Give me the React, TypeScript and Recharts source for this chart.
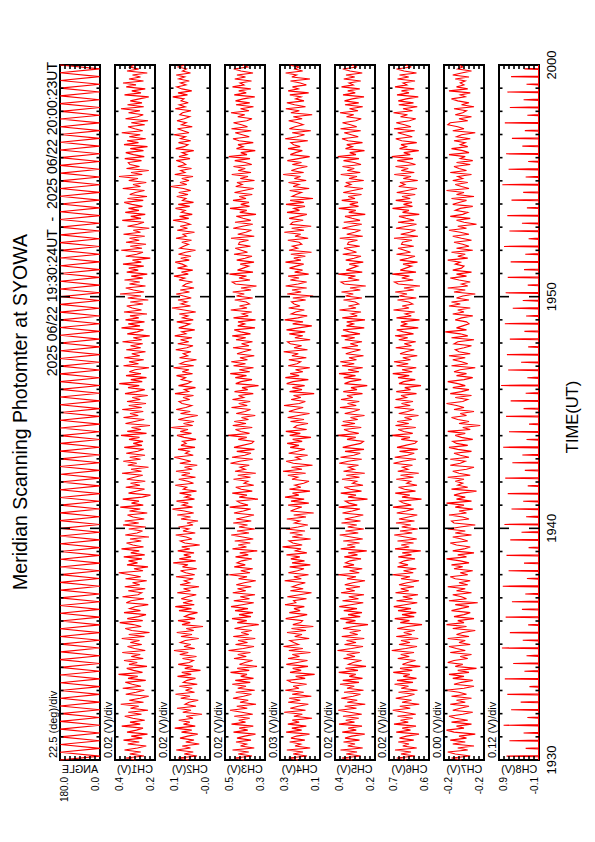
import { LineChart, Line, XAxis, YAxis, ReferenceArea } from "recharts";

// 19:30 - 20:00 UT, seconds from 19:30:00
const timeTicks = [0, 600, 1200, 1800];
const timeLabels = ["1930", "1940", "1950", "2000"];

const panelNames = ["ANGLE", "CH1(V)", "CH2(V)", "CH3(V)", "CH4(V)", "CH5(V)", "CH6(V)", "CH7(V)", "CH8(V)"];
const scaleLabels = [
  "22.5 (deg)/div", "0.02 (V)/div", "0.02 (V)/div", "0.02 (V)/div", "0.03 (V)/div",
  "0.02 (V)/div", "0.02 (V)/div", "0.00 (V)/div", "0.12 (V)/div",
];
const topLabels = ["180.0", "0.4", "0.1", "0.5", "0.3", "0.4", "0.7", "-0.2", "0.9"];
const bottomLabels = ["0.0", "0.2", "-0.0", "0.3", "0.1", "0.2", "0.6", "-0.2", "-0.1"];
// ANGLE in deg, channels in mV
const domains: [number, number][] = [
  [0, 180], [240, 400], [-40, 120], [340, 500], [80, 320], [240, 400], [550, 710], [-222, -190], [-60, 900],
];

const angle = [
  179, 1, 180, 0, 178, 2, 180, 1, 179, 0, 180, 2, 177, 0, 180, 1, 179, 3, 180, 0,
  178, 1, 180, 0, 179, 2, 180, 0, 176, 1, 180, 0, 179, 2, 180, 1, 178, 0, 180, 2,
  179, 0, 180, 1, 177, 0, 180, 3, 179, 1, 180, 0, 178, 2, 180, 0, 179, 1, 180, 0,
  177, 2, 180, 1, 179, 0, 180, 2, 178, 0, 180, 1, 179, 0, 176, 2, 180, 1, 179, 0,
  180, 0, 178, 2, 180, 1, 179, 0, 180, 3, 177, 1, 180, 0, 179, 2, 180, 0, 178, 1,
  180, 0, 179, 2, 180, 1, 177, 0, 180, 2, 179, 0, 180, 1, 178, 0, 180, 2, 179, 1,
  176, 0, 180, 1, 179, 2, 180, 0, 178, 1, 180, 0, 179, 3, 180, 1, 177, 0, 180, 2,
  179, 0, 180, 1, 178, 2, 180, 0, 179, 1, 180, 0, 177, 2, 180, 1, 179, 0, 180, 2,
  178, 1, 180, 0, 179, 2, 180, 1, 176, 0, 180, 2, 179, 1, 180, 0, 178, 2, 180, 1,
  179,
];

const ch1 = [
  318, 356, 284, 341, 297, 362, 310, 275, 349, 303, 366, 291, 335, 270, 352, 314, 288, 373, 299, 340,
  281, 329, 361, 294, 347, 268, 338, 305, 377, 286, 343, 300, 265, 357, 316, 283, 369, 296, 331, 359,
  277, 348, 309, 386, 290, 326, 353, 272, 344, 311, 364, 287, 335, 299, 371, 279, 322, 350, 293, 339,
  302, 373, 282, 345, 262, 333, 359, 295, 327, 381, 289, 351, 306, 276, 364, 298, 342, 320, 267, 355,
  336, 284, 370, 308, 293, 347, 279, 361, 301, 330, 273, 358, 297, 339, 385, 288, 324, 268, 352, 310,
  346, 292, 365, 281, 337, 303, 374, 286, 329, 354, 295, 340, 264, 359, 312, 290, 345, 277, 368, 305,
  361, 283, 328, 350, 271, 342, 299, 379, 287, 334, 304, 369, 291, 258, 346, 316, 282, 357, 300, 338,
  279, 353, 323, 289, 372, 294, 336, 266, 349, 313, 367, 298, 341, 280, 355, 309, 285, 363, 292, 327,
  288, 344, 302, 376, 274, 351, 296, 334, 260, 358, 321, 283, 366, 307, 340, 287, 371, 293, 345, 276,
  352, 299, 331, 269, 360, 315, 281, 348, 303, 383, 291, 337, 274, 356, 296, 343, 320, 264, 366, 306,
  344, 285, 363, 301, 333, 278, 355, 297, 338, 289, 370, 293, 327, 261, 351, 311, 286, 374, 300, 347,
  282, 358, 305, 340, 272, 364, 294, 331, 353, 288, 339, 267, 349, 296, 380, 284, 326, 357, 278, 342,
  301, 362, 289, 335, 271, 353, 307, 345, 285, 368, 295, 330, 259, 357, 313, 288, 375, 292, 339, 276,
  356, 303, 342, 281, 366, 298, 327, 263, 350, 310, 284, 371, 296, 337, 279, 359, 304, 346, 290, 333,
  363, 287, 350, 272, 341, 319, 282, 369, 298, 328, 275, 345, 308, 384, 291, 336, 265, 354, 302, 340,
  347, 294, 361, 283, 326, 357, 286, 339, 270, 364, 306, 352, 277, 343, 299, 373, 289, 321, 348, 281,
  335, 268, 358, 310, 287, 346, 300, 376, 285, 350, 292, 339, 303, 265, 362, 296, 333, 279, 355, 316,
  368, 286, 344, 298, 330, 271, 352, 305, 341, 322,
];

const ch2 = [
  46, 88, 12, 63, 27, 95, 38, 71, 3, 57, 24, 80, 49, 9, 74, 33, 101, 19, 66, 41,
  85, 28, 55, -8, 69, 36, 92, 16, 60, 44, 7, 77, 40, 98, 22, 58, 31, 83, 11, 67,
  52, 18, 90, 35, 73, -2, 61, 29, 87, 43, 26, 70, 14, 81, 47, 104, 21, 64, 37, 79,
  59, 5, 76, 32, 93, 25, 55, -12, 72, 39, 88, 20, 62, 45, 10, 84, 34, 99, 23, 68,
  30, 75, 50, 15, 91, 38, 66, 4, 80, 42, 63, 27, 96, 21, 57, 78, 13, 70, 48, 107,
  17, 83, 36, 65, 24, 89, 41, 73, 1, 61, 79, 32, 55, 97, 19, 68, 45, 86, 28, 52,
  8, 76, 38, 91, 25, 63, 110, 30, 71, 47, 94, 22, 60, 35, 82, 14, 67, 53, 99, 26,
  49, 85, 18, 74, 40, 96, 31, 62, 11, 81, 37, 69, 103, 27, 58, 43, 88, 20, 76, 55,
  70, 16, 64, 92, 34, 79, 48, 115, 29, 66, 24, 87, 53, 9, 78, 39, 95, 57, 33, 72,
  84, 41, 68, 26, 100, 46, 63, 18, 86, 51, 35, 75, 58, 94, 30, 71, 44, 106, 25, 80,
  61, 14, 82, 49, 67, 36, 97, 53, 28, 89, 45, 78, 32, 101, 56, 73, 21, 85, 60, 40,
  93, 27, 70, 48, 83, 17, 64, 112, 38, 76, 52, 88, 35, 66, 95, 42, 79, 24, 69, 57,
  30, 84, 61, 104, 47, 74, 29, 90, 54, 71, 99, 43, 77, 36, 86, 58, 18, 81, 65, 46,
  73, 34, 96, 55, 68, 22, 91, 50, 79, 39, 62, 108, 45, 82, 31, 75, 59, 98, 41, 87,
  26, 70, 56, 93, 48, 85, 37, 66, 117, 53, 80, 44, 73, 28, 101, 60, 77, 34, 89, 57,
  69, 95, 40, 84, 52, 72, 25, 97, 63, 48, 86, 37, 78, 58, 105, 44, 67, 90, 31, 74,
  55, 92, 63, 41, 81, 70, 36, 99, 59, 83, 47, 76, 64, 109, 50, 88, 33, 72, 93, 56,
  78, 43, 85, 61, 95, 38, 70, 54, 87, 62,
];

const ch3 = [
  423, 461, 392, 447, 405, 470, 383, 438, 414, 456, 396, 452, 421, 378, 466, 409, 443, 387, 474, 418,
  445, 401, 463, 389, 432, 480, 411, 453, 376, 440, 407, 468, 426, 394, 457, 381, 449, 416, 471, 399,
  459, 386, 437, 412, 478, 403, 451, 372, 442, 420, 390, 464, 415, 449, 398, 486, 427, 384, 458, 410,
  448, 379, 467, 405, 435, 393, 462, 420, 365, 451, 413, 472, 396, 444, 388, 460, 408, 476, 431, 385,
  465, 402, 439, 380, 469, 417, 450, 395, 455, 423, 377, 446, 412, 483, 400, 437, 389, 463, 419, 452,
  433, 393, 458, 407, 441, 371, 470, 414, 447, 399, 461, 387, 429, 475, 404, 452, 381, 444, 410, 467,
  395, 455, 418, 384, 464, 427, 397, 481, 408, 438, 452, 368, 443, 412, 471, 391, 435, 457, 385, 424,
  408, 466, 398, 449, 377, 460, 419, 440, 403, 478, 441, 389, 472, 421, 396, 453, 382, 464, 430, 393,
  385, 447, 413, 488, 402, 437, 458, 391, 469, 416, 463, 406, 434, 379, 455, 420, 398, 474, 411, 445,
  399, 470, 425, 446, 387, 462, 409, 432, 366, 457, 436, 392, 459, 414, 479, 401, 443, 386, 466, 418,
  475, 410, 440, 383, 452, 426, 395, 468, 404, 434, 390, 456, 417, 471, 398, 437, 463, 380, 449, 421,
  448, 378, 466, 407, 431, 393, 477, 412, 442, 402, 415, 461, 389, 454, 423, 469, 396, 436, 374, 458,
  471, 400, 444, 414, 482, 388, 450, 427, 405, 439, 384, 453, 420, 392, 464, 410, 435, 459, 398, 446,
  442, 406, 476, 383, 449, 417, 394, 467, 430, 389, 460, 397, 428, 455, 376, 441, 413, 480, 402, 437,
  404, 468, 416, 443, 391, 462, 424, 385, 457, 431, 452, 382, 439, 408, 473, 396, 447, 419, 466, 393,
  419, 461, 400, 485, 412, 437, 379, 454, 427, 448, 387, 444, 468, 403, 431, 459, 395, 474, 410, 434,
  466, 413, 392, 449, 421, 476, 404, 438, 386, 456, 401, 458, 427, 381, 463, 415, 445, 397, 470, 424,
  440, 394, 461, 418, 452, 388, 436, 465, 409, 429,
];

const ch4 = [
  212, 268, 158, 241, 182, 279, 139, 230, 196, 262, 171, 254, 221, 143, 283, 190, 249, 162, 273, 205,
  246, 128, 237, 186, 295, 167, 258, 211, 150, 271, 198, 265, 132, 247, 178, 288, 206, 241, 160, 253,
  275, 169, 226, 112, 260, 193, 244, 152, 282, 217, 155, 272, 203, 246, 137, 267, 183, 299, 209, 238,
  261, 145, 232, 188, 278, 164, 251, 120, 243, 196, 184, 286, 218, 157, 264, 199, 236, 174, 290, 225,
  239, 161, 276, 203, 131, 258, 181, 247, 214, 168, 292, 192, 237, 149, 270, 215, 176, 262, 138, 248,
  173, 255, 201, 281, 159, 228, 194, 305, 187, 243, 266, 136, 247, 185, 261, 170, 284, 211, 153, 233,
  201, 279, 164, 238, 118, 257, 226, 189, 271, 147, 254, 175, 290, 207, 245, 140, 263, 195, 231, 178,
  146, 248, 213, 273, 166, 302, 188, 251, 125, 240, 283, 197, 226, 154, 268, 215, 171, 259, 206, 277,
  187, 244, 134, 262, 198, 285, 160, 236, 219, 152, 257, 176, 274, 210, 143, 267, 229, 181, 296, 204,
  168, 253, 195, 239, 115, 263, 188, 246, 172, 280, 242, 150, 288, 205, 259, 183, 227, 141, 271, 218,
  196, 267, 162, 249, 210, 298, 155, 236, 190, 258, 275, 139, 231, 183, 264, 169, 281, 209, 129, 244,
  182, 292, 213, 157, 253, 226, 174, 268, 200, 235, 251, 166, 243, 121, 277, 193, 248, 160, 286, 211,
  160, 258, 206, 271, 148, 232, 185, 263, 223, 178, 287, 195, 237, 168, 255, 131, 266, 214, 246, 189,
  205, 273, 151, 230, 196, 294, 176, 250, 133, 257, 244, 181, 265, 212, 159, 278, 203, 237, 170, 284,
  177, 259, 122, 248, 224, 191, 262, 145, 241, 206, 269, 163, 234, 197, 301, 178, 252, 215, 156, 246,
  191, 276, 209, 142, 258, 227, 186, 272, 199, 238, 255, 153, 289, 218, 173, 247, 135, 264, 230, 181,
  214, 268, 187, 240, 127, 255, 204, 285, 167, 233, 279, 176, 226, 193, 261, 148, 271, 210, 245, 162,
  198, 257, 140, 249, 220, 286, 184, 231, 206, 264,
];

const ch5 = [
  331, 372, 297, 355, 312, 378, 289, 349, 320, 366, 302, 360, 333, 281, 371, 315, 347, 292, 384, 322,
  357, 305, 368, 293, 340, 387, 314, 361, 279, 351, 311, 375, 328, 298, 364, 286, 352, 323, 380, 304,
  369, 290, 343, 317, 385, 308, 358, 276, 346, 327, 294, 366, 320, 353, 301, 390, 334, 288, 362, 316,
  354, 283, 373, 309, 341, 297, 368, 325, 268, 357, 318, 379, 299, 348, 292, 365, 312, 383, 337, 287,
  370, 306, 345, 284, 376, 321, 356, 300, 361, 329, 280, 352, 316, 388, 303, 342, 291, 367, 324, 358,
  340, 296, 363, 310, 347, 273, 377, 319, 351, 302, 367, 289, 336, 381, 307, 358, 285, 349, 313, 374,
  298, 361, 322, 287, 370, 331, 300, 385, 311, 344, 359, 270, 348, 316, 377, 294, 339, 363, 288, 330,
  313, 372, 302, 355, 281, 366, 323, 346, 306, 383, 347, 293, 378, 325, 299, 360, 284, 369, 335, 297,
  286, 352, 317, 391, 305, 343, 364, 295, 374, 320, 369, 309, 338, 282, 361, 326, 301, 380, 315, 350,
  303, 376, 329, 352, 290, 367, 312, 336, 271, 362, 341, 295, 365, 318, 384, 304, 348, 289, 372, 323,
  379, 314, 344, 286, 357, 330, 298, 373, 308, 339, 292, 361, 321, 375, 300, 342, 368, 283, 354, 326,
  353, 280, 371, 311, 335, 296, 382, 316, 346, 305, 319, 366, 292, 358, 327, 374, 299, 340, 277, 363,
  376, 303, 348, 318, 387, 291, 355, 332, 309, 343, 287, 357, 324, 296, 369, 314, 338, 364, 301, 350,
  346, 310, 381, 289, 353, 321, 298, 371, 334, 293, 365, 300, 332, 360, 279, 345, 317, 385, 306, 341,
  308, 373, 320, 347, 294, 367, 328, 288, 362, 336, 357, 285, 344, 312, 377, 299, 351, 323, 370, 296,
  323, 366, 304, 389, 316, 341, 282, 358, 330, 353, 290, 348, 372, 307, 335, 363, 297, 378, 313, 338,
  370, 317, 295, 354, 325, 380, 308, 342, 289, 360, 305, 362, 331, 284, 368, 319, 349, 301, 374, 327,
  344, 297, 365, 321, 356, 291, 340, 369, 312, 333,
];

const ch6 = [
  641, 679, 606, 662, 622, 686, 599, 655, 630, 673, 611, 668, 640, 590, 681, 624, 657, 602, 690, 633,
  664, 615, 676, 603, 650, 695, 625, 667, 589, 658, 620, 683, 637, 608, 672, 596, 661, 632, 688, 614,
  678, 600, 653, 627, 693, 617, 666, 585, 656, 636, 604, 675, 629, 663, 610, 699, 643, 598, 670, 626,
  662, 593, 681, 619, 651, 607, 677, 635, 578, 665, 628, 687, 609, 658, 601, 674, 622, 691, 646, 597,
  680, 616, 655, 594, 684, 631, 663, 610, 670, 638, 590, 662, 626, 697, 613, 652, 601, 676, 634, 667,
  649, 606, 673, 620, 657, 583, 686, 629, 661, 612, 676, 599, 645, 689, 617, 666, 595, 659, 623, 682,
  608, 670, 632, 597, 679, 641, 611, 694, 621, 653, 667, 580, 658, 627, 685, 604, 648, 672, 598, 639,
  623, 681, 612, 664, 591, 675, 634, 656, 616, 692, 655, 602, 687, 636, 609, 668, 595, 678, 644, 606,
  598, 661, 626, 700, 615, 651, 673, 603, 684, 631, 677, 619, 648, 592, 671, 636, 610, 688, 625, 660,
  614, 684, 640, 662, 600, 681, 624, 647, 582, 670, 651, 605, 674, 629, 695, 617, 658, 601, 680, 633,
  690, 624, 655, 597, 666, 642, 609, 683, 620, 649, 603, 671, 635, 686, 612, 652, 679, 593, 664, 639,
  662, 588, 680, 621, 645, 607, 692, 630, 657, 615, 631, 676, 601, 669, 638, 685, 611, 650, 586, 673,
  688, 613, 659, 628, 697, 602, 665, 643, 619, 654, 596, 667, 634, 606, 680, 624, 648, 674, 611, 660,
  656, 618, 690, 594, 663, 627, 604, 682, 639, 600, 674, 610, 642, 670, 589, 656, 630, 696, 616, 652,
  618, 683, 625, 658, 605, 679, 637, 598, 671, 646, 666, 595, 653, 622, 689, 609, 661, 633, 684, 604,
  633, 677, 614, 699, 625, 651, 591, 668, 640, 662, 599, 659, 683, 617, 646, 675, 607, 690, 622, 648,
  681, 628, 603, 664, 636, 692, 616, 654, 597, 671, 612, 673, 641, 593, 678, 630, 660, 609, 686, 638,
  654, 606, 676, 631, 668, 600, 650, 680, 621, 643,
];

const ch7 = [
  -204, -196, -211, -199, -193, -209, -201, -214, -197, -207, -195, -208, -202, -215, -198, -192, -206, -200, -212, -196,
  -209, -199, -194, -205, -213, -197, -203, -210, -195, -207, -200, -212, -196, -208, -202, -191, -206, -214, -198, -204,
  -213, -197, -206, -194, -210, -201, -216, -199, -205, -193, -198, -209, -203, -212, -195, -207, -200, -194, -211, -202,
  -207, -193, -210, -200, -205, -215, -197, -208, -192, -206, -201, -214, -198, -206, -211, -196, -203, -210, -199, -217,
  -194, -208, -204, -197, -212, -200, -207, -193, -209, -202, -211, -199, -195, -209, -203, -213, -198, -205, -196, -210,
  -203, -192, -208, -201, -214, -197, -206, -211, -200, -195, -209, -204, -197, -212, -199, -207, -193, -203, -215, -198,
  -196, -210, -205, -194, -208, -202, -213, -199, -206, -192, -212, -200, -207, -198, -204, -216, -196, -209, -201, -205,
  -199, -206, -193, -211, -202, -197, -208, -214, -195, -203, -207, -195, -210, -203, -198, -212, -201, -194, -209, -200,
  -197, -213, -204, -199, -207, -193, -211, -205, -219, -202, -210, -201, -196, -208, -203, -214, -198, -206, -200, -192,
  -205, -209, -199, -212, -195, -204, -210, -197, -207, -201, -193, -206, -213, -200, -208, -198, -203, -215, -196, -209,
  -204, -197, -207, -194, -211, -202, -199, -206, -212, -198, -201, -214, -196, -209, -203, -191, -208, -200, -205, -210,
  -208, -199, -204, -213, -197, -206, -201, -211, -194, -203, -196, -210, -200, -205, -215, -198, -207, -193, -209, -204,
  -211, -202, -195, -208, -200, -212, -197, -204, -206, -199, -203, -193, -209, -201, -207, -196, -213, -200, -210, -205,
  -198, -212, -204, -197, -210, -203, -194, -208, -201, -216, -206, -200, -211, -195, -205, -209, -199, -203, -213, -197,
  -202, -208, -196, -214, -200, -206, -192, -210, -204, -199, -209, -197, -205, -201, -212, -195, -208, -202, -198, -211,
  -200, -213, -203, -207, -194, -210, -205, -196, -209, -203, -207, -198, -211, -200, -204, -215, -197, -206, -201, -193,
  -195, -209, -202, -212, -199, -205, -208, -198, -214, -204, -210, -201, -196, -207, -203, -211, -194, -209, -200, -206,
  -203, -207, -199, -210, -197, -204, -212, -201, -205, -202,
];

// CH8: flat baseline with one short pulse per scan
const ch8Base = -50;
const ch8Peaks = [
  720, 260, 650, 310, 790, 220, 610, 380, 700, 170, 760, 290, 560, 240, 830, 330, 640, 200, 740, 350,
  590, 270, 810, 230, 670, 300, 720, 190, 630, 360, 770, 250, 600, 320, 690, 210, 750, 280, 580, 340,
  800, 240, 660, 180, 730, 310, 620, 260, 850, 220, 680, 370, 710, 200, 640, 290, 760, 250, 570, 330,
  740, 210, 690, 300, 620, 270, 780, 190, 650, 350, 700, 230, 600, 320, 820, 260, 670, 200, 730, 340,
  590, 280, 760, 220, 640, 310, 700, 240, 610, 290,
];

const series = [angle, ch1, ch2, ch3, ch4, ch5, ch6, ch7, null];

const W = 842;
const H = 595;
const PLOT_LEFT = 82;
const PLOT_RIGHT = 777;
const PLOT_W = PLOT_RIGHT - PLOT_LEFT;
const PANEL_H = 40;
const FIRST_TOP = 60;
const PITCH = 54.9;
const PAD_T = 14;
const PAD_B = 34;
const Y_AXIS_W = 40;
const X_AXIS_H = 30;
const FONT = "'Liberation Sans', Arial, Helvetica, sans-serif";

const minuteTicks: number[] = [];
for (let s = 0; s <= 1800; s += 60) minuteTicks.push(s);

function toRows(values: number[]) {
  const step = 1800 / (values.length - 1);
  return values.map((v, i) => ({ t: i * step, v }));
}

function pulseRows(base: number, peaks: number[]) {
  const period = 1800 / peaks.length;
  const rows = [{ t: 0, v: base }];
  peaks.forEach((p, i) => {
    const tc = period * (i + 0.5);
    rows.push({ t: tc - 1.5, v: base }, { t: tc, v: p }, { t: tc + 1.5, v: base });
  });
  rows.push({ t: 1800, v: base });
  return rows;
}

function TimeTick(props: any) {
  const { x, y, payload, showLabel } = props;
  const v = payload.value;
  const edge = v === 0 || v === 1800;
  const major = v % 600 === 0;
  const len = major ? 10 : 3.5;
  const li = timeTicks.indexOf(v);
  return (
    <g>
      {!edge && <line x1={x} x2={x} y1={y} y2={y - len} stroke="#000" strokeWidth={1.6} />}
      {!edge && <line x1={x} x2={x} y1={y - PANEL_H} y2={y - PANEL_H + len} stroke="#000" strokeWidth={1.6} />}
      {showLabel && li >= 0 && (
        <text x={x} y={y + 16.5} textAnchor="middle" fontSize={13} fontFamily={FONT} fill="#000">
          {timeLabels[li]}
        </text>
      )}
    </g>
  );
}

function ValueTick(props: any) {
  const { x, y, index, count, top, bottom } = props;
  if (index === 0) {
    return (
      <text x={x - 17} y={y - 1} textAnchor="end" fontSize={10} fontFamily={FONT} fill="#000">
        {bottom}
      </text>
    );
  }
  if (index === count - 1) {
    return (
      <text x={x - 17} y={y + 8} textAnchor="end" fontSize={10} fontFamily={FONT} fill="#000">
        {top}
      </text>
    );
  }
  return (
    <g>
      <line x1={x} x2={x + 4} y1={y} y2={y} stroke="#000" strokeWidth={1.6} />
      <line x1={x + PLOT_W} x2={x + PLOT_W - 4} y1={y} y2={y} stroke="#000" strokeWidth={1.6} />
    </g>
  );
}

function Panel({ i }: { i: number }) {
  const [lo, hi] = domains[i];
  const last = i === domains.length - 1;
  const padBottom = last ? 46 : PAD_B;
  const top = FIRST_TOP + i * PITCH;
  const yTicks = Array.from({ length: 9 }, (_, k) => lo + ((hi - lo) * k) / 8);
  const values = series[i];
  const rows = values ? toRows(values) : pulseRows(ch8Base, ch8Peaks);
  return (
    <div style={{ position: "absolute", left: 0, top: top - PAD_T }}>
      <LineChart
        width={W}
        height={PAD_T + PANEL_H + padBottom}
        data={rows}
        margin={{ top: PAD_T, right: W - PLOT_RIGHT, bottom: padBottom - X_AXIS_H, left: PLOT_LEFT - Y_AXIS_W }}
      >
        <XAxis
          type="number"
          dataKey="t"
          domain={[0, 1800]}
          ticks={minuteTicks}
          interval={0}
          height={X_AXIS_H}
          tickSize={0}
          tickMargin={0}
          axisLine={false}
          tickLine={false}
          tick={(p: any) => <TimeTick {...p} showLabel={last} />}
        />
        <YAxis
          type="number"
          domain={[lo, hi]}
          allowDataOverflow
          ticks={yTicks}
          interval={0}
          width={Y_AXIS_W}
          tickSize={0}
          tickMargin={0}
          axisLine={false}
          tickLine={false}
          tick={(p: any) => <ValueTick {...p} count={9} top={topLabels[i]} bottom={bottomLabels[i]} />}
        />
        <Line
          type="linear"
          dataKey="v"
          stroke="#ff0000"
          strokeWidth={1.1}
          dot={false}
          isAnimationActive={false}
        />
        <ReferenceArea x1={0} x2={1800} y1={lo} y2={hi} fill="none" stroke="#000" strokeWidth={2} ifOverflow="visible" />
      </LineChart>
    </div>
  );
}

export default function App() {
  return (
    <div style={{ position: "fixed", left: 0, top: 0, width: 595, height: 842, background: "#fff", overflow: "hidden" }}>
      <div
        style={{
          position: "absolute",
          left: 0,
          top: 0,
          width: W,
          height: H,
          transformOrigin: "0 0",
          transform: `translate(0px, ${W}px) rotate(-90deg)`,
        }}
      >
        {domains.map((_, i) => (
          <Panel key={i} i={i} />
        ))}
        <svg width={W} height={H} style={{ position: "absolute", left: 0, top: 0, pointerEvents: "none" }}>
          <text x={430} y={27} textAnchor="middle" fontSize={19.5} fontFamily={FONT} fill="#000">
            Meridian Scanning Photomter at SYOWA
          </text>
          <text x={780} y={57} textAnchor="end" fontSize={14} fontFamily={FONT} fill="#000" style={{ whiteSpace: "pre" }}>
            {"2025 06/22 19:30:24UT  -  2025 06/22 20:00:23UT"}
          </text>
          {scaleLabels.map((s, i) => (
            <text key={s + i} x={84} y={FIRST_TOP + i * PITCH - 3} fontSize={11} fontFamily={FONT} fill="#000">
              {s}
            </text>
          ))}
          {panelNames.map((n, i) => (
            <text
              key={n}
              transform={`translate(69, ${FIRST_TOP + i * PITCH + PANEL_H / 2}) rotate(90) scale(-1, 1)`}
              textAnchor="middle"
              fontSize={10.8}
              fontFamily={FONT}
              fill="#000"
            >
              {n}
            </text>
          ))}
          <text x={425} y={578} textAnchor="middle" fontSize={16.5} fontFamily={FONT} fill="#000">
            TIME(UT)
          </text>
        </svg>
      </div>
    </div>
  );
}
